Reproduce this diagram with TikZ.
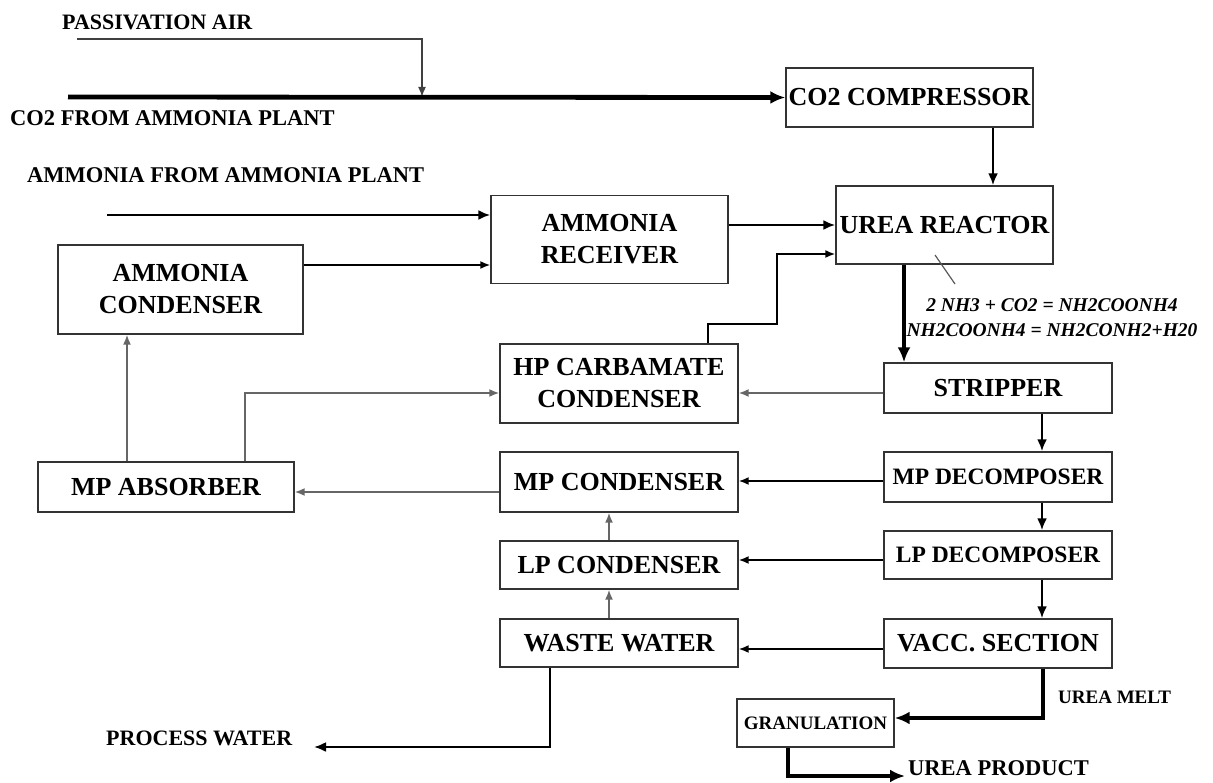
\documentclass[tikz,border=0pt]{standalone}
\usepackage{fontspec}
\setmainfont{Liberation Serif}
\usetikzlibrary{arrows.meta,positioning}

\begin{document}
\begin{tikzpicture}[
  x=1pt,y=-1pt,
  blk/.style={draw=black!80,line width=1.4pt,inner sep=0pt,align=center,
    font=\fontsize{26}{32}\selectfont\bfseries},
  lbl/.style={anchor=west,inner sep=0pt,font=\fontsize{22.5}{27}\selectfont\bfseries},
  ar/.style={-{Latex[length=10pt,width=8pt]},line width=1.7pt},
  gar/.style={ar,draw=black!60},
  mar/.style={-{Latex[length=12pt,width=10pt]},line width=2.7pt},
  tar/.style={-{Latex[length=15pt,width=13pt]},line width=4.8pt}
]
\useasboundingbox (0,0) rectangle (1213,783);

% blocks
\node[blk,minimum width=247pt,minimum height=59pt] (comp) at (909.5,97.5) {CO2 COMPRESSOR};
\node[blk,minimum width=217pt,minimum height=78pt] (reactor) at (944.5,225) {UREA REACTOR};
\node[blk,minimum width=237pt,minimum height=88pt] (recv) at (609.5,239.5) {AMMONIA\\RECEIVER};
\node[blk,minimum width=245pt,minimum height=89pt] (amcond) at (180.5,289.5) {AMMONIA\\CONDENSER};
\node[blk,minimum width=238pt,minimum height=79pt] (hp) at (619,383.5) {HP CARBAMATE\\CONDENSER};
\node[blk,minimum width=228pt,minimum height=50pt] (strip) at (998,388) {STRIPPER};
\node[blk,minimum width=256pt,minimum height=50pt] (mpabs) at (166,487) {MP ABSORBER};
\node[blk,minimum width=238pt,minimum height=60pt] (mpcond) at (619,482) {MP CONDENSER};
\node[blk,minimum width=228pt,minimum height=50pt,font=\fontsize{23.5}{28}\selectfont\bfseries] (mpdec) at (998,477) {MP DECOMPOSER};
\node[blk,minimum width=238pt,minimum height=48pt] (lpcond) at (619,565) {LP CONDENSER};
\node[blk,minimum width=228pt,minimum height=48pt,font=\fontsize{23.5}{28}\selectfont\bfseries] (lpdec) at (998,555) {LP DECOMPOSER};
\node[blk,minimum width=238pt,minimum height=48pt] (waste) at (619,643) {WASTE WATER};
\node[blk,minimum width=228pt,minimum height=49pt] (vacc) at (998,643.5) {VACC. SECTION};
\node[blk,minimum width=157pt,minimum height=48pt,font=\fontsize{19}{23}\selectfont\bfseries] (gran) at (815.5,723) {GRANULATION};

% stream labels
\node[lbl,font=\fontsize{22}{26}\selectfont\bfseries] (airtxt) at (62,22) {PASSIVATION AIR};
\node[lbl] (co2txt) at (10,118) {CO2 FROM AMMONIA PLANT};
\node[lbl] (nh3txt) at (27,175) {AMMONIA FROM AMMONIA PLANT};
\node[lbl,font=\fontsize{19}{23}\selectfont\bfseries] (melttxt) at (1058,697) {UREA MELT};
\node[lbl,font=\fontsize{22}{26}\selectfont\bfseries] (pwtxt) at (106,738) {PROCESS WATER};
\node[lbl,font=\fontsize{22.5}{27}\selectfont\bfseries] (prodtxt) at (908,768) {UREA PRODUCT};
\node[inner sep=0pt,align=center,font=\fontsize{19.5}{25}\selectfont\bfseries\itshape] (rxn) at (1052,317.5)
  {2 NH3 + CO2 = NH2COONH4\\NH2COONH4 = NH2CONH2+H20};

% free ends
\coordinate (air) at (77,39);
\coordinate (mix) at (422,97);
\coordinate (co2in) at (68,97);
\coordinate (nh3in) at (107,215);
\coordinate (hpup) at (777,324);
\coordinate (ld1) at (935,255);
\coordinate (ld2) at (955,284);
\coordinate (pw) at (314,747);
\coordinate (prod) at (905,776);

% feeds
\draw[ar,draw=black!75] (air) -| (mix);
\draw[tar] (co2in) -- (comp.west);
\draw[mar] ([xshift=83.5pt]comp.south) -- ([xshift=83.5pt]comp.south |- reactor.north);
\draw[mar] (nh3in) -- (nh3in -| recv.west);
\draw[ar] ([yshift=24.5pt]amcond.east) -- ([yshift=24.5pt]amcond.east -| recv.west);
\draw[mar] (recv.east |- reactor.west) -- (reactor.west);
\draw[ar] ([xshift=89pt]hp.north) |- (hpup) |- ([yshift=-29pt]reactor.west);
\draw[black!65,line width=1.2pt] (ld1) -- (ld2);

% main train
\draw[tar] ([xshift=-40.5pt]reactor.south) -- ([xshift=-40.5pt]reactor.south |- strip.north);
\draw[mar] ([xshift=44pt]strip.south) -- ([xshift=44pt]mpdec.north);
\draw[mar] ([xshift=44pt]mpdec.south) -- ([xshift=44pt]lpdec.north);
\draw[mar] ([xshift=44pt]lpdec.south) -- ([xshift=44pt]vacc.north);
\draw[tar] ([xshift=45pt]vacc.south) |- ([yshift=5pt]gran.east);
\draw[tar] ([xshift=-27.5pt]gran.south) |- (prod);

% recovery
\draw[gar] ([yshift=-5pt]strip.west) -- ([yshift=-5pt]strip.west -| hp.east);
\draw[ar] ([yshift=-4pt]mpdec.west) -- ([yshift=-4pt]mpdec.west -| mpcond.east);
\draw[ar] ([yshift=-5pt]lpdec.west) -- ([yshift=-5pt]lpdec.west -| lpcond.east);
\draw[ar] ([yshift=-5.5pt]vacc.west) -- ([yshift=-5.5pt]vacc.west -| waste.east);
\draw[gar] ([yshift=-10pt]mpcond.west) -- ([yshift=-10pt]mpcond.west -| mpabs.east);
\draw[gar] ([xshift=-10pt]lpcond.north) -- ([xshift=-10pt]mpcond.south);
\draw[gar] ([xshift=-10pt]waste.north) -- ([xshift=-10pt]lpcond.south);
\draw[gar] ([xshift=-39pt]mpabs.north) -- ([xshift=-39pt]mpabs.north |- amcond.south);
\draw[gar] ([xshift=79pt]mpabs.north) |- ([yshift=-9.5pt]hp.west);
\draw[mar,line width=2.2pt] ([xshift=-69pt]waste.south) |- (pw);
\end{tikzpicture}
\end{document}
